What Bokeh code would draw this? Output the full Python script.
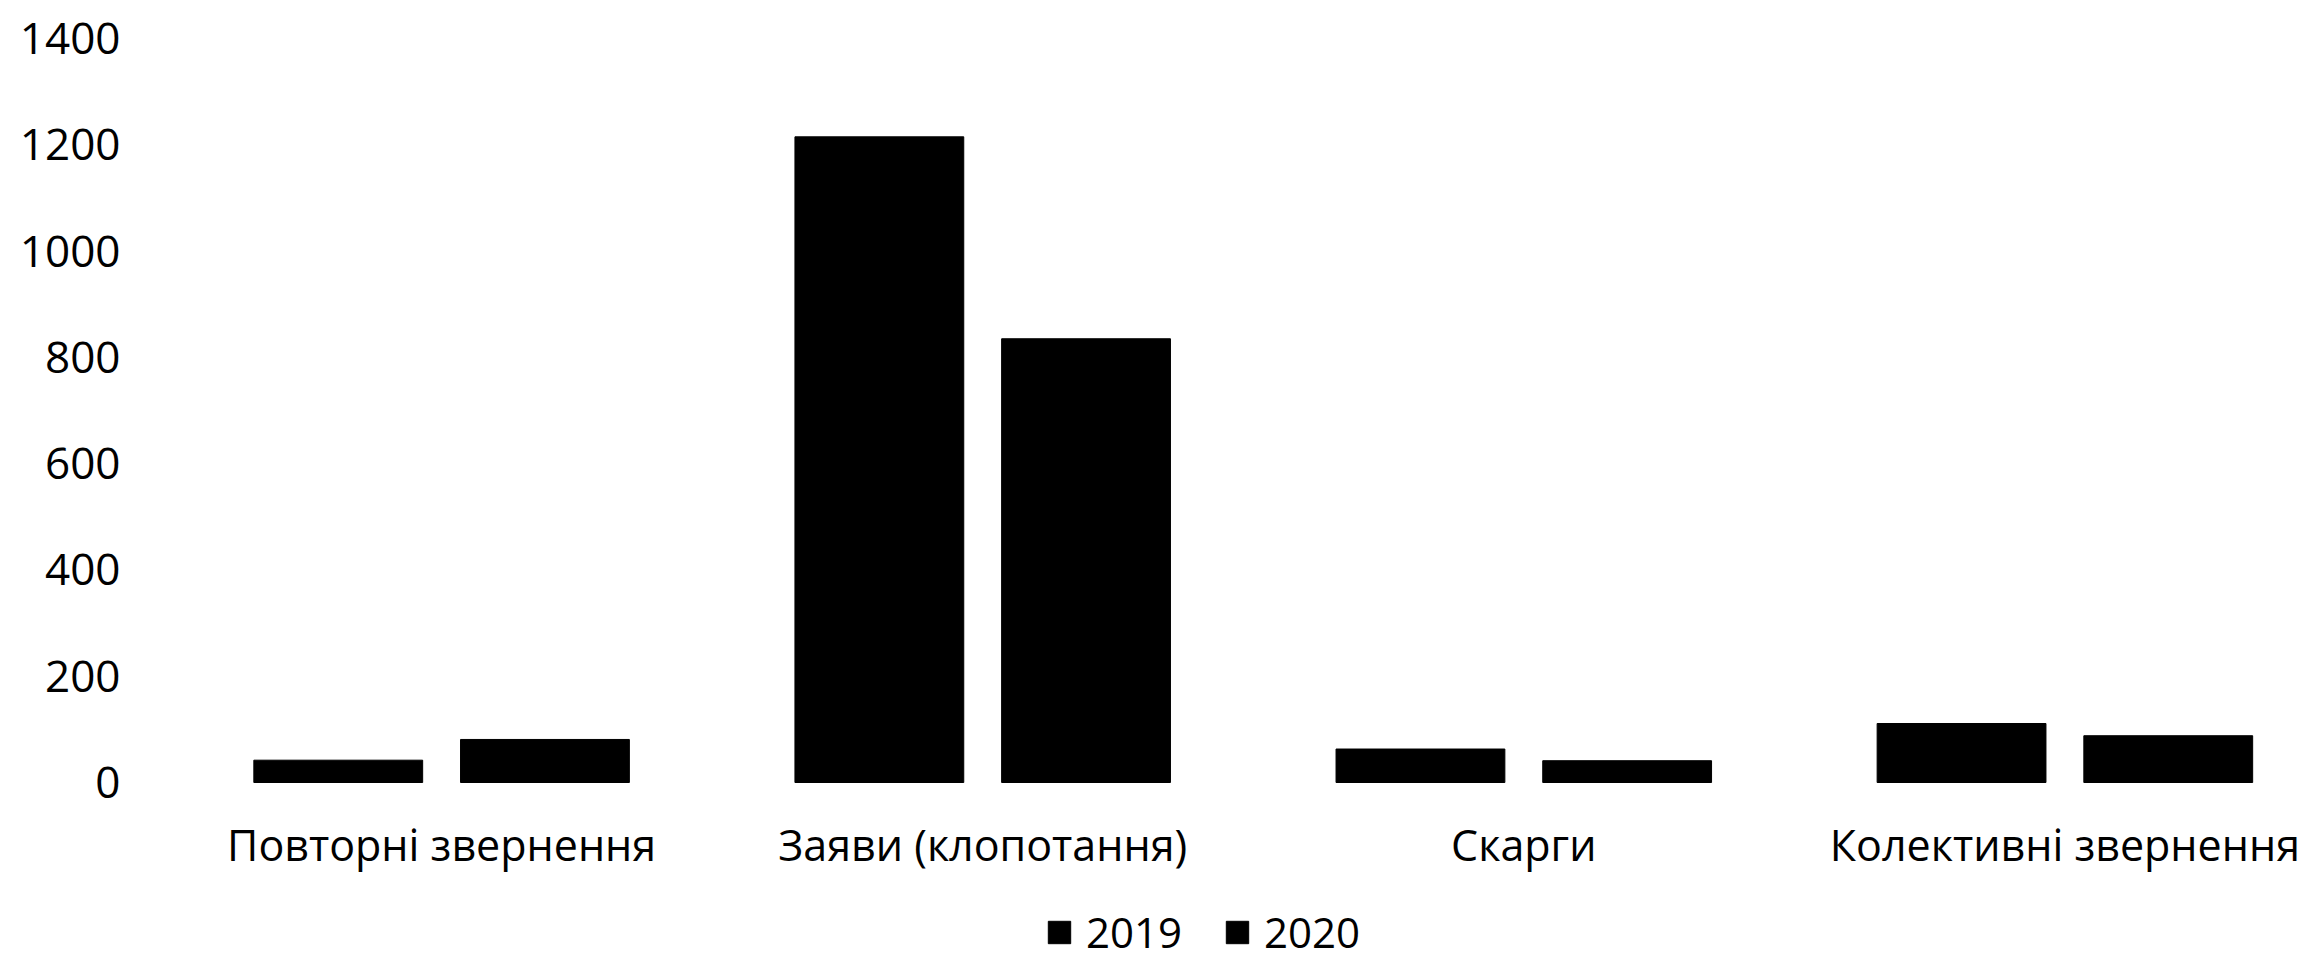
from bokeh.plotting import figure
from bokeh.models import ColumnDataSource, Range1d, FixedTicker, Legend, LegendItem
from bokeh.core.properties import value
from bokeh.transform import dodge
from bokeh.embed import file_html
from bokeh.resources import INLINE

categories = ["Повторні звернення", "Заяви (клопотання)", "Скарги", "Колективні звернення"]
series_names = ["2019", "2020"]
values_2019 = [42, 1215, 63, 111]
values_2020 = [81, 835, 41, 88]
y_ticks = [0, 200, 400, 600, 800, 1000, 1200, 1400]

positions = [i + 0.5 for i in range(len(categories))]
source = ColumnDataSource(dict(x=positions, y2019=values_2019, y2020=values_2020,
                               name=categories))

FONT = "Open Sans"
W, H = 2310, 968
LEFT = 160          # frame left (px)
TOP = 38            # frame top (px) = value 1400
ZERO_PX = 782       # pixel row of value 0
PX_PER_CAT = 541.1
CAT0_PX = 441.1
px_per_unit = (ZERO_PX - TOP) / 1400.0
y_bottom = -(H - ZERO_PX) / px_per_unit
x_start = 0.5 - (CAT0_PX - LEFT) / PX_PER_CAT
x_end = x_start + (W - LEFT) / PX_PER_CAT
label_y = -(843.5 - ZERO_PX) / px_per_unit

p = figure(width=W, height=H, output_backend="svg", toolbar_location=None,
           x_range=Range1d(x_start, x_end), y_range=Range1d(y_bottom, 1400),
           min_border_left=LEFT, min_border_right=0, min_border_top=TOP,
           min_border_bottom=0)

r1 = p.vbar(x=dodge("x", -0.191, range=p.x_range), top="y2019", width=0.312,
            source=source, fill_color="#000000", line_color="#000000")
r2 = p.vbar(x=dodge("x", 0.191, range=p.x_range), top="y2020", width=0.312,
            source=source, fill_color="#000000", line_color="#000000")

# category labels (x axis)
p.text(x="x", y=label_y, text="name", source=source, text_align="center",
       text_baseline="middle", text_font=value(FONT), text_font_size="43px",
       text_color="#000000")

p.xgrid.visible = False
p.ygrid.visible = False
p.xaxis.visible = False
p.outline_line_color = None
p.background_fill_color = "white"
p.border_fill_color = "white"

ya = p.yaxis[0]
ya.ticker = FixedTicker(ticks=y_ticks)
ya.major_label_text_font = FONT
ya.major_label_text_font_size = "44px"
ya.major_label_text_color = "#000000"
ya.major_label_standoff = 40
ya.major_tick_out = 0
ya.major_tick_in = 0
ya.axis_line_color = None
ya.major_tick_line_color = None
ya.minor_tick_line_color = None

legend = Legend(items=[LegendItem(label=series_names[0], renderers=[r1]),
                       LegendItem(label=series_names[1], renderers=[r2])],
                orientation="horizontal", location=(1045 - LEFT, 8),
                glyph_width=28, glyph_height=28, label_standoff=13, spacing=41,
                padding=0, margin=0, border_line_color=None,
                background_fill_alpha=0,
                label_text_font=FONT, label_text_font_size="42px",
                label_text_color="#000000")
p.add_layout(legend)

open("out.html", "w").write(file_html(p, INLINE))
